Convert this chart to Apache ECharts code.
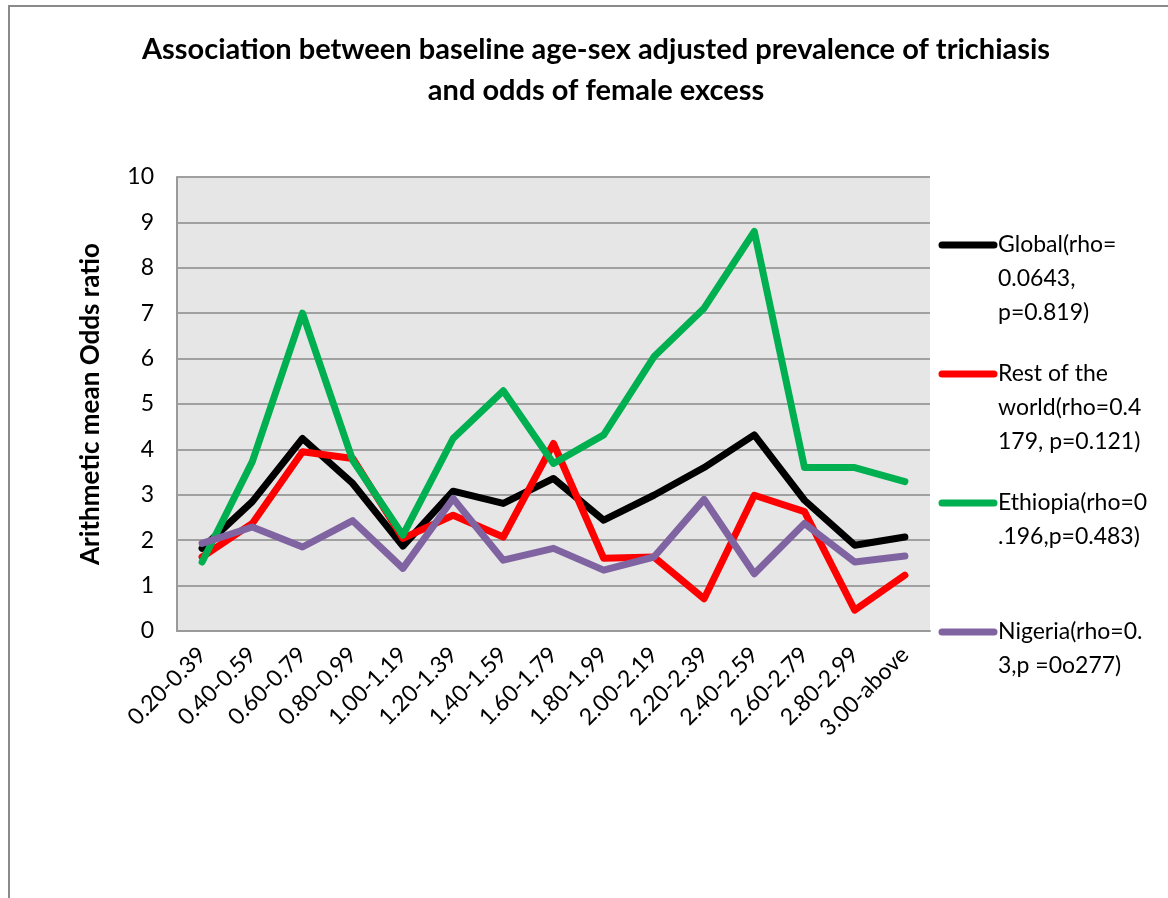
<!DOCTYPE html>
<html>
<head>
<meta charset="utf-8">
<title>Trichiasis prevalence and odds of female excess</title>
<script src="https://cdn.jsdelivr.net/npm/echarts@6/dist/echarts.min.js"></script>
<style>
  html, body { margin: 0; padding: 0; background: #ffffff; }
  #chart { width: 1168px; height: 898px; }
</style>
</head>
<body>
<div id="chart"></div>
<script>
// Prevalence bands of trichiasis (age-sex adjusted, baseline)
const categories = ['0.20-0.39', '0.40-0.59', '0.60-0.79', '0.80-0.99', '1.00-1.19',
  '1.20-1.39', '1.40-1.59', '1.60-1.79', '1.80-1.99', '2.00-2.19', '2.20-2.39',
  '2.40-2.59', '2.60-2.79', '2.80-2.99', '3.00-above'];

// Arithmetic mean odds ratio of female excess per band
const globalValues    = [1.82, 2.85, 4.24, 3.25, 1.87, 3.08, 2.81, 3.36, 2.44, 2.99, 3.60, 4.32, 2.88, 1.89, 2.07];
const restOfWorld     = [1.63, 2.37, 3.95, 3.80, 2.04, 2.55, 2.07, 4.13, 1.60, 1.63, 0.71, 2.99, 2.63, 0.46, 1.23];
const ethiopiaValues  = [1.52, 3.73, 7.00, 3.76, 2.11, 4.24, 5.29, 3.69, 4.32, 6.04, 7.11, 8.80, 3.60, 3.60, 3.29];
const nigeriaValues   = [1.93, 2.29, 1.85, 2.43, 1.38, 2.92, 1.56, 1.82, 1.34, 1.63, 2.90, 1.26, 2.37, 1.52, 1.65];

const seriesNames = ['Global', 'Rest of the world', 'Ethiopia', 'Nigeria'];
const legendTexts = [
  'Global(rho=\n0.0643,\np=0.819)',
  'Rest of the\nworld(rho=0.4\n179, p=0.121)',
  'Ethiopia(rho=0\n.196,p=0.483)',
  'Nigeria(rho=0.\n3,p =0o277)'
];
const seriesColors = ['#000000', '#ff0000', '#00b050', '#8064a2'];
const yTicks = { min: 0, max: 10, interval: 1 };

const titleText = 'Association between baseline age-sex adjusted prevalence of trichiasis\nand odds of female excess';
const yAxisTitle = 'Arithmetic mean Odds ratio';

const FONT = 'Lato, "Open Sans", sans-serif';
const chart = echarts.init(document.getElementById('chart'), null, { renderer: 'canvas' });

const valueSets = [globalValues, restOfWorld, ethiopiaValues, nigeriaValues];
const legendY = [245, 374, 503, 632];

// Legend drawn beside the plot: a line swatch followed by wrapped text
const legendGraphics = [];
seriesNames.forEach((name, i) => {
  legendGraphics.push({
    type: 'line',
    shape: { x1: 942, y1: legendY[i], x2: 994, y2: legendY[i] },
    style: { stroke: seriesColors[i], lineWidth: 7, lineCap: 'round' },
    z: 10
  });
  legendGraphics.push({
    type: 'text',
    left: 998,
    top: legendY[i] - 17,
    style: {
      text: legendTexts[i],
      font: '23px ' + FONT,
      fill: '#000000',
      lineHeight: 34,
      textVerticalAlign: 'top'
    },
    z: 10
  });
});

const option = {
  backgroundColor: '#ffffff',
  animation: false,
  title: {
    text: titleText,
    left: 591,
    top: 24,
    textAlign: 'center',
    textStyle: {
      fontFamily: FONT,
      fontSize: 29,
      fontWeight: 'bold',
      color: '#000000',
      lineHeight: 41
    }
  },
  grid: {
    left: 177,
    top: 177,
    right: 238,
    bottom: 267,
    show: true,
    backgroundColor: '#e6e6e6',
    borderWidth: 0
  },
  xAxis: {
    type: 'category',
    data: categories,
    boundaryGap: true,
    axisLine: { show: true, lineStyle: { color: '#9a9a9a', width: 2 } },
    axisTick: { show: false },
    axisLabel: {
      rotate: 45,
      interval: 0,
      margin: 20,
      fontFamily: FONT,
      fontSize: 23,
      color: '#000000'
    },
    splitLine: { show: false }
  },
  yAxis: {
    type: 'value',
    min: yTicks.min,
    max: yTicks.max,
    interval: yTicks.interval,
    name: yAxisTitle,
    nameLocation: 'middle',
    nameRotate: 90,
    nameGap: 73,
    nameTextStyle: {
      fontFamily: FONT,
      fontSize: 26,
      fontWeight: 'bold',
      color: '#000000'
    },
    axisLine: { show: true, lineStyle: { color: '#9a9a9a', width: 2 } },
    axisTick: { show: false },
    axisLabel: {
      margin: 23,
      fontFamily: FONT,
      fontSize: 23,
      color: '#000000'
    },
    splitLine: { show: true, lineStyle: { color: '#a0a0a0', width: 2 } }
  },
  series: seriesNames.map((name, i) => ({
    name: name,
    type: 'line',
    data: valueSets[i],
    symbol: 'none',
    lineStyle: { color: seriesColors[i], width: 7, join: 'round', cap: 'round' },
    itemStyle: { color: seriesColors[i] },
    z: 2 + i
  })),
  graphic: [
    {
      type: 'polyline',
      shape: { points: [[9, 898], [9, 6], [1168, 6]] },
      style: { stroke: '#8a8a8a', lineWidth: 2, fill: null },
      z: 10
    }
  ].concat(legendGraphics)
};

chart.setOption(option);
</script>
</body>
</html>
